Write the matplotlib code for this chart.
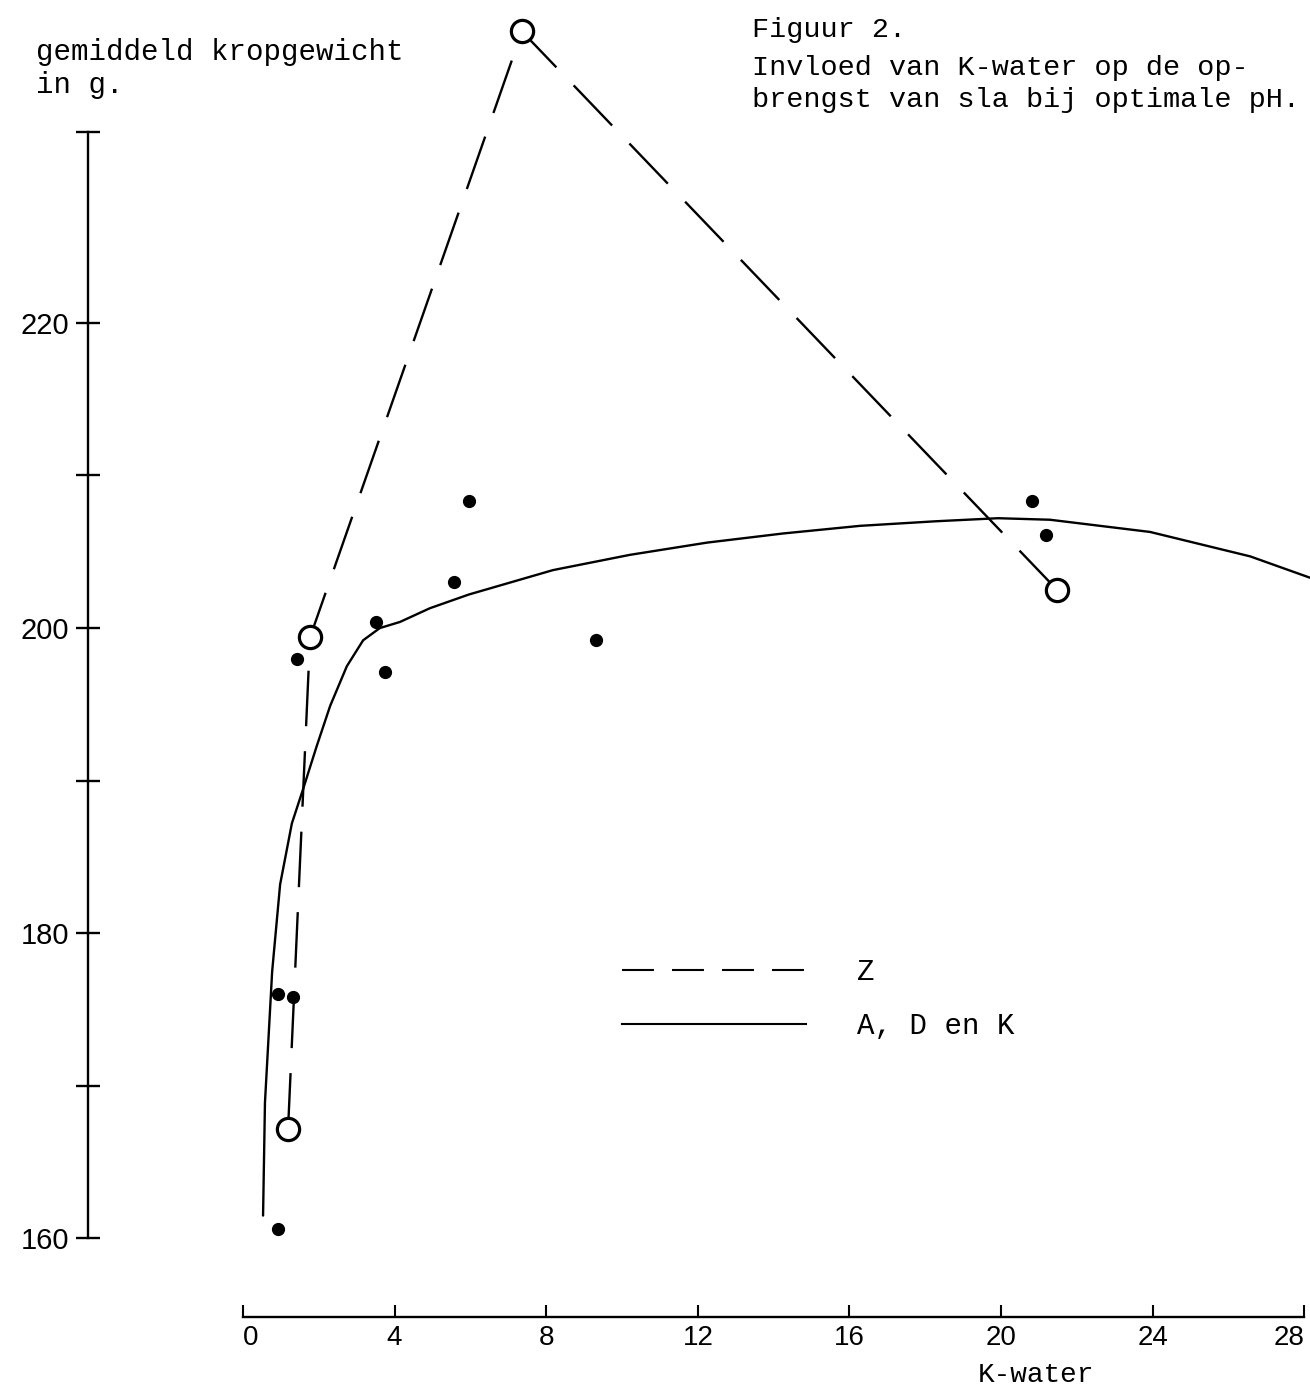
import matplotlib
matplotlib.use('Agg')
import matplotlib.pyplot as plt
from matplotlib.lines import Line2D

# Figuur 2: K-water vs gemiddeld kropgewicht (g)
z_k = [1.19, 1.77, 7.36, 21.48]
z_weight = [167.2, 199.4, 239.1, 202.5]

adk_k = [0.92, 0.92, 1.32, 1.42, 3.51, 3.75, 5.57, 5.96, 9.31, 20.82, 21.19]
adk_weight = [160.6, 176.0, 175.8, 198.0, 200.4, 197.1, 203.0, 208.3, 199.2,
              208.3, 206.1]

# hand-drawn trend line for A, D en K
curve_k = [0.53, 0.58, 0.77, 0.98, 1.29, 1.58, 1.95, 2.30, 2.74, 3.17, 3.61,
           4.14, 4.93, 5.96, 8.18, 10.21, 12.24, 14.25, 16.28, 18.28, 19.92,
           21.29, 23.93, 26.57, 28.15]
curve_weight = [161.5, 168.9, 177.5, 183.2, 187.2, 189.4, 192.3, 194.9, 197.5,
                199.2, 200.0, 200.4, 201.3, 202.2, 203.8, 204.8, 205.6, 206.2,
                206.7, 207.0, 207.2, 207.1, 206.3, 204.7, 203.3]

x_ticks = [0, 4, 8, 12, 16, 20, 24, 28]
y_major = [160, 180, 200, 220]
y_minor = [170, 190, 210, 232.5]

plt.rcParams['lines.scale_dashes'] = False
TYPE = ['Liberation Mono', 'DejaVu Sans Mono']
SANS = ['Liberation Sans', 'DejaVu Sans']

fig = plt.figure(figsize=(13.10, 13.88), dpi=100)
ax = fig.add_axes([0, 0, 1, 1])
ax.patch.set_alpha(0)
ax.set_xlim(-6.41, 28.15)
ax.set_ylim(150.2, 241.16)

for s in ('top', 'right'):
    ax.spines[s].set_visible(False)
ax.spines['left'].set_position(('data', -4.09))
ax.spines['bottom'].set_position(('data', 154.86))
ax.spines['left'].set_bounds(160, 232.5)
ax.spines['bottom'].set_bounds(0, 28)
for s in ('left', 'bottom'):
    ax.spines[s].set_linewidth(1.7)

ax.set_xticks(x_ticks)
ax.set_yticks(y_major)
ax.set_yticks(y_minor, minor=True)
ax.tick_params(axis='y', which='both', direction='inout', length=17,
               width=1.7, pad=5, labelsize=21)
ax.tick_params(axis='x', direction='in', length=9, width=1.5, pad=6,
               labelsize=20)
for lab in ax.get_xticklabels() + ax.get_yticklabels():
    lab.set_family(SANS)
ax.get_xticklabels()[0].set_horizontalalignment('left')
ax.get_xticklabels()[-1].set_horizontalalignment('right')

ax.plot(curve_k, curve_weight, color='black', lw=1.7, solid_capstyle='round')
ax.plot(z_k, z_weight, color='black', lw=1.7, dashes=(40, 18),
        marker='o', ms=16, mfc='white', mec='black', mew=2.3, clip_on=False)
ax.plot(adk_k, adk_weight, 'o', color='black', ms=8.5, ls='none')

handles = [Line2D([], [], color='black', lw=1.5, dashes=(23, 13)),
           Line2D([], [], color='black', lw=1.5)]
ax.legend(handles, ['Z', 'A, D en K'], loc='upper left',
          bbox_to_anchor=(622 / 1310, 1 - 958 / 1388),
          bbox_transform=fig.transFigure, frameon=False,
          handlelength=6.3, handletextpad=1.75, labelspacing=0.9,
          borderpad=0, borderaxespad=0, prop={'family': TYPE, 'size': 21})

fig.text(36 / 1310, 1 - 52 / 1388, 'gemiddeld kropgewicht', family=TYPE,
         fontsize=21, va='center')
fig.text(36 / 1310, 1 - 85 / 1388, 'in g.', family=TYPE, fontsize=21,
         va='center')
fig.text(752 / 1310, 1 - 30 / 1388, 'Figuur 2.', family=TYPE, fontsize=20.5,
         va='center')
fig.text(752 / 1310, 1 - 68 / 1388, 'Invloed van K-water op de op-',
         family=TYPE, fontsize=20.5, va='center')
fig.text(752 / 1310, 1 - 100 / 1388, 'brengst van sla bij optimale pH.',
         family=TYPE, fontsize=20.5, va='center')
fig.text(1036 / 1310, 0.5 / 1388, 'K-water', family=TYPE, fontsize=20,
         ha='center', va='bottom')

fig.savefig('out.png', dpi=100)
